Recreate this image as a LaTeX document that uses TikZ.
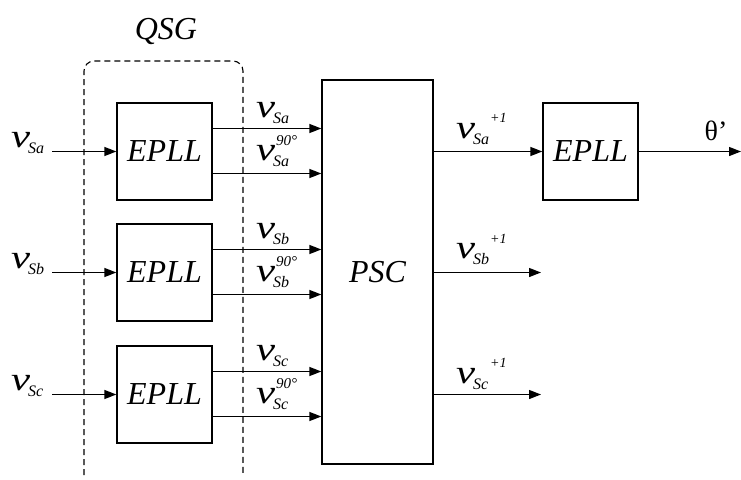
\documentclass[tikz,border=0pt]{standalone}
\usepackage{fontspec}
\setmainfont{Liberation Serif}
\usetikzlibrary{arrows.meta}
\newcommand{\bigv}{{\fontsize{33}{33}\selectfont\itshape\scalebox{1.3}[1]{v}}}
\newcommand{\subs}[1]{\raisebox{-6pt}{\fontsize{16}{16}\selectfont\itshape #1}}
\newcommand{\vlab}[1]{\bigv\kern-2pt\subs{#1}}
\begin{document}
\begin{tikzpicture}[x=1pt,y=-1pt,
  blk/.style={draw, line width=1.3pt, minimum width=95pt, minimum height=97pt, inner sep=0pt,
    font=\fontsize{32}{32}\selectfont\itshape},
  arr/.style={-{Triangle[length=12pt,width=9pt]}, line width=1.3pt},
  lab/.style={anchor=base west, inner sep=0pt},
  sup/.style={anchor=base west, inner sep=0pt, font=\fontsize{15}{15}\selectfont\itshape},
  plus/.style={anchor=base west, inner sep=0pt, font=\fontsize{14}{14}\selectfont\itshape},
  qsgline/.style={line width=1.1pt, dash pattern=on 6pt off 4pt}]
\useasboundingbox (0,0) rectangle (741,479);

% QSG group
\node[inner sep=0pt, font=\fontsize{32}{32}\selectfont\itshape] (qsg) at (166,31) {QSG};
\draw[qsgline, rounded corners=10pt] (84,475) -- (84,61) -- (243,61) -- (243,475);

% blocks
\node[blk] (e1) at (164.5,151.5) {EPLL};
\node[blk] (e2) at (164.5,272.5) {EPLL};
\node[blk] (e3) at (164.5,394.5) {EPLL};
\node[draw, line width=1.3pt, minimum width=111pt, minimum height=384pt, inner sep=0pt,
  font=\fontsize{32}{32}\selectfont\itshape] (psc) at (377.5,272) {PSC};
\node[blk] (e4) at (590.5,151.5) {EPLL};

% inputs
\coordinate (i1) at (52,151.5);
\coordinate (i2) at (52,272.5);
\coordinate (i3) at (52,394.5);
\draw[arr] (i1) -- (e1.west);
\draw[arr] (i2) -- (e2.west);
\draw[arr] (i3) -- (e3.west);
\node[lab] (li1) at (11,147) {\vlab{Sa}};
\node[lab] (li2) at (11,268) {\vlab{Sb}};
\node[lab] (li3) at (11,390) {\vlab{Sc}};

% outputs of QSG
\foreach \k/\s/\dy in {1/Sa/0,2/Sb/121,3/Sc/243}{
  \coordinate (u\k) at ([yshift=23pt]e\k.east);
  \coordinate (w\k) at ([yshift=-22pt]e\k.east);
  \draw[arr] (u\k) -- (u\k -| psc.west);
  \draw[arr] (w\k) -- (w\k -| psc.west);
  \node[lab] (lu\k) at (256,117+\dy) {\vlab{\s}};
  \node[sup] (ld\k) at (276,145+\dy) {90°};
  \node[lab] (lw\k) at (256,160+\dy) {\vlab{\s}};
}

% PSC outputs
\coordinate (p2) at (541,272.5);
\coordinate (p3) at (541,394.5);
\coordinate (th) at (741,151.5);
\draw[arr] (psc.east |- e4.west) -- (e4.west);
\draw[arr] (psc.east |- p2) -- (p2);
\draw[arr] (psc.east |- p3) -- (p3);
\draw[arr] (e4.east) -- (th);
\node[lab] (lp1) at (456,138) {\vlab{Sa}};
\node[plus] (pp1) at (490,122) {+1};
\node[lab] (lp2) at (456,258) {\vlab{Sb}};
\node[plus] (pp2) at (490,243) {+1};
\node[lab] (lp3) at (456,383) {\vlab{Sc}};
\node[plus] (pp3) at (490,367) {+1};
\node[inner sep=0pt, font=\fontsize{28}{28}\selectfont] (tl) at (716,131) {θ’};
\end{tikzpicture}
\end{document}
